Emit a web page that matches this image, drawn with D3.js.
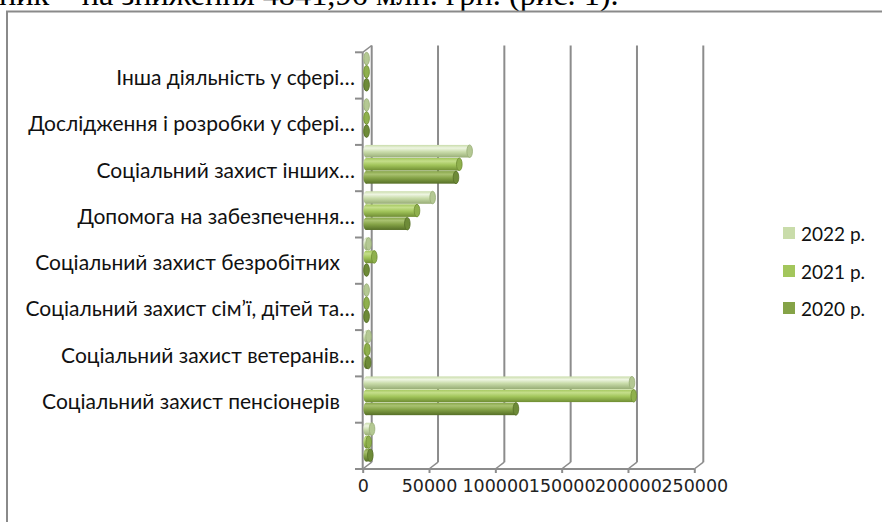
<!DOCTYPE html>
<html><head><meta charset="utf-8">
<script src="https://cdn.jsdelivr.net/npm/d3@7"></script>
<style>body{margin:0;background:#fff;overflow:hidden}svg{display:block}</style>
</head><body>
<script>
// ---- data ----
const categories = [
  "Інша діяльність у сфері…",
  "Дослідження і розробки у сфері…",
  "Соціальний захист інших…",
  "Допомога на забезпечення…",
  "Соціальний захист безробітних",
  "Соціальний захист сім’ї, дітей та…",
  "Соціальний захист ветеранів…",
  "Соціальний захист пенсіонерів",
  ""
];
const seriesNames = ["2022 р.", "2021 р.", "2020 р."];
const values2022 = [300, 300, 78000, 50100, 1800, 300, 1800, 200400, 4400];
const values2021 = [300, 300, 70200, 38300, 6100, 300, 900, 201700, 1900];
const values2020 = [300, 300, 67700, 31000, 300, 300, 1500, 112900, 3100];
const xTicks = [0, 50000, 100000, 150000, 200000, 250000];
const headerText = "ник – на зниження 4841,96 млн. грн. (рис. 1).";

const seriesValues = [values2022, values2021, values2020];
const colors = [
  {light:"#eef5e2", main:"#c9dcaa", dark:"#98ad76", cap:"#b4c893"},
  {light:"#c4de8a", main:"#a3c65c", dark:"#6f8d33", cap:"#8fb04d"},
  {light:"#a9c270", main:"#85a347", dark:"#566f27", cap:"#6e8b38"}
];

const W = 882, H = 522;
const svg = d3.select("body").append("svg").attr("width", W).attr("height", H);

// header text (cut at top, as in the reference)
const hdr = svg.append("text").attr("x", -1).attr("y", 5)
  .attr("font-family", "Liberation Serif").attr("font-size", 28).attr("fill", "#000")
  .text(headerText);
const hw = hdr.node().getComputedTextLength();
hdr.attr("font-size", 28 * 620 / hw);

// frame
svg.append("rect").attr("x", 7).attr("y", 11.5).attr("width", 900).attr("height", 540)
  .attr("fill", "none").attr("stroke", "#8a8a8a").attr("stroke-width", 2);

const DX = 9, DY = -6.8;
const x = d3.scaleLinear().domain([0, 250000]).range([362.7, 694.3]);
const y = d3.scaleBand().domain(categories.map((d, i) => i)).range([52.3, 469]).paddingInner(0).paddingOuter(0);
const yIn = d3.scaleBand().domain(seriesNames).range([0, y.bandwidth()]).paddingOuter(0.27).paddingInner(0);

const gridCol = "#8c8c8c";
const g = svg.append("g");

// back wall gridlines + floor connectors
xTicks.forEach(t => {
  g.append("line").attr("x1", x(t) + DX).attr("x2", x(t) + DX)
    .attr("y1", 52.3 + DY).attr("y2", 469 + DY)
    .attr("stroke", gridCol).attr("stroke-width", 2);
  g.append("line").attr("x1", x(t)).attr("x2", x(t) + DX)
    .attr("y1", 469).attr("y2", 469 + DY)
    .attr("stroke", gridCol).attr("stroke-width", 1.5);
});
g.append("line").attr("x1", x(0)).attr("x2", x(0) + DX).attr("y1", 52.3).attr("y2", 52.3 + DY)
  .attr("stroke", gridCol).attr("stroke-width", 1.5);

// left axis
g.append("line").attr("x1", x(0)).attr("x2", x(0)).attr("y1", 52.3).attr("y2", 469)
  .attr("stroke", gridCol).attr("stroke-width", 2);
const bounds = categories.map((d, i) => y(i)).concat([469]);
bounds.forEach(b => {
  g.append("line").attr("x1", 355).attr("x2", x(0)).attr("y1", b).attr("y2", b)
    .attr("stroke", gridCol).attr("stroke-width", 2);
});

// bottom axis
const xAxis = d3.axisBottom(x).tickValues(xTicks).tickSize(4).tickSizeOuter(0).tickFormat(d3.format("d"));
const ax = svg.append("g").attr("transform", "translate(0,469)").call(xAxis);
ax.select(".domain").attr("stroke", gridCol).attr("stroke-width", 2).attr("d", `M355,0H${x(250000)}`);
ax.selectAll(".tick line").attr("stroke", gridCol).attr("stroke-width", 2);
ax.selectAll(".tick text").attr("font-family", "DejaVu Sans").attr("font-size", 17.5)
  .attr("fill", "#222").attr("y", 11).attr("dy", "0.71em");

// gradients
const defs = svg.append("defs");
colors.forEach((c, i) => {
  const lg = defs.append("linearGradient").attr("id", "grad" + i)
    .attr("x1", 0).attr("x2", 0).attr("y1", 0).attr("y2", 1);
  lg.append("stop").attr("offset", "0%").attr("stop-color", c.main);
  lg.append("stop").attr("offset", "25%").attr("stop-color", c.light);
  lg.append("stop").attr("offset", "55%").attr("stop-color", c.main);
  lg.append("stop").attr("offset", "100%").attr("stop-color", c.dark);
});

// bars (cylinders)
const BX = 3.5, BY = -3.5;
const bars = svg.append("g");
seriesNames.forEach((s, si) => {
  const vals = seriesValues[si];
  vals.forEach((v, ci) => {
    const y0 = y(ci) + yIn(s) + BY;
    const h = yIn.bandwidth() - 0.5;
    const x0 = x(0) + BX;
    const x1 = x(v) + BX;
    const rx = Math.min(2.8, h * 0.3);
    bars.append("rect").attr("x", x0).attr("y", y0).attr("width", Math.max(0, x1 - x0)).attr("height", h)
      .attr("fill", `url(#grad${si})`);
    bars.append("ellipse").attr("cx", x0).attr("cy", y0 + h / 2).attr("rx", rx).attr("ry", h / 2)
      .attr("fill", `url(#grad${si})`);
    bars.append("ellipse").attr("cx", x1).attr("cy", y0 + h / 2).attr("rx", rx).attr("ry", h / 2)
      .attr("fill", colors[si].cap).attr("stroke", colors[si].dark).attr("stroke-width", 0.8);
  });
});

// category labels
const labG = svg.append("g");
categories.forEach((c, i) => {
  const trunc = c.endsWith("…");
  labG.append("text").attr("x", trunc ? 355 : 340).attr("y", y(i) + y.bandwidth() / 2 + 1)
    .attr("text-anchor", "end").attr("dominant-baseline", "central")
    .attr("font-family", "Lato").attr("font-size", 21).attr("fill", "#111")
    .text(c);
});

// legend
const legY = [233, 271, 308];
seriesNames.forEach((s, i) => {
  svg.append("rect").attr("x", 783).attr("y", legY[i] - 6).attr("width", 12).attr("height", 12)
    .attr("fill", colors[i].main);
  svg.append("text").attr("x", 801).attr("y", legY[i]).attr("dominant-baseline", "central")
    .attr("font-family", "Lato").attr("font-size", 19).attr("fill", "#111").text(s);
});
</script>
</body></html>
